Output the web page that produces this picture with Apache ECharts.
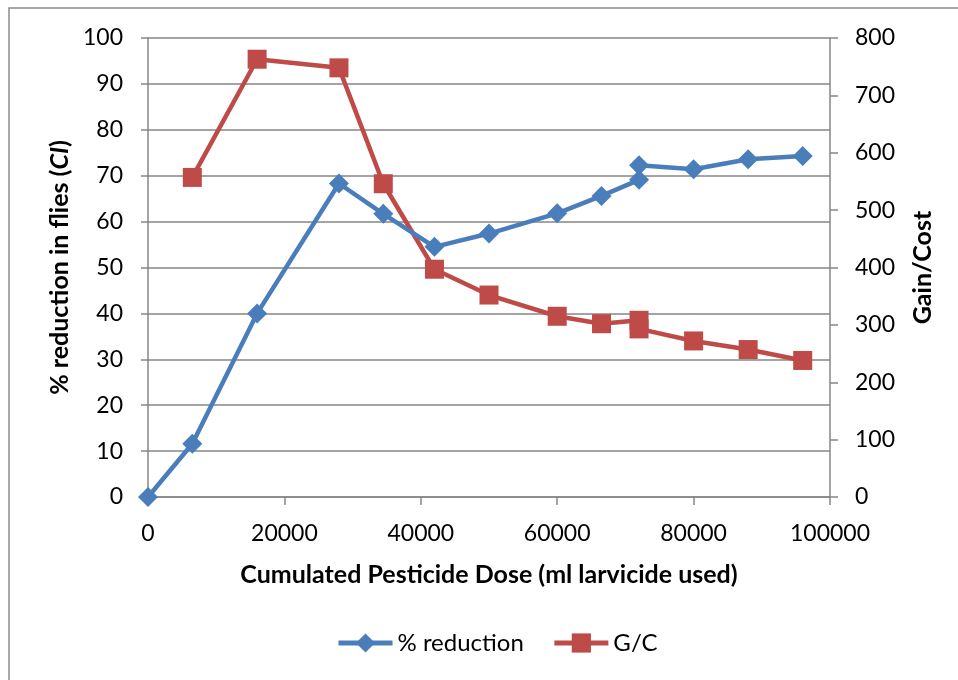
<!DOCTYPE html>
<html>
<head>
<meta charset="utf-8">
<script src="https://cdn.jsdelivr.net/npm/echarts@6/dist/echarts.min.js"></script>
<style>
  html, body { margin: 0; padding: 0; background: #fff; }
  #chart { width: 958px; height: 680px; }
</style>
</head>
<body>
<div id="chart"></div>
<script>
// Cumulated pesticide dose (ml larvicide used)
const dose = [0, 6500, 16000, 28000, 34500, 42000, 50000, 60000, 66500, 72000, 72000, 80000, 88000, 96000];
// % reduction in flies (CI)
const reduction = [0, 11.6, 40.0, 68.3, 61.7, 54.5, 57.4, 61.8, 65.6, 69.1, 72.3, 71.4, 73.6, 74.3];
// Gain/Cost ratio (no value at zero dose)
const gainCost = [null, 557, 763, 748, 546, 397, 352, 315, 302, 308, 293, 272, 257, 238];

const xTicks = { min: 0, max: 100000, interval: 20000 };
const leftTicks = { min: 0, max: 100, interval: 10 };
const rightTicks = { min: 0, max: 800, interval: 100 };

const FONT = 'Lato, "Open Sans", sans-serif';
const AXIS_GRAY = '#868686';
const BLUE = '#4A7EBB';
const RED = '#BE4B48';
const TICK_SIZE = 23;
const TITLE_SIZE = 25;

const pairs = (ys) => dose.map((x, i) => [x, ys[i] === null ? '-' : ys[i]]);

const chart = echarts.init(document.getElementById('chart'), null, { renderer: 'canvas' });

chart.setOption({
  backgroundColor: '#fff',
  animation: false,
  textStyle: { fontFamily: FONT, color: '#000' },
  graphic: [{
    type: 'rect',
    shape: { x: 9, y: 8, width: 1000, height: 720 },
    style: { fill: 'none', stroke: '#8c8c8c', lineWidth: 1.5 },
    silent: true,
    z: -1
  }],
  grid: { left: 148, right: 128, top: 38, bottom: 183, containLabel: false },
  legend: {
    bottom: 20,
    left: 331,
    itemWidth: 54,
    itemHeight: 24,
    itemGap: 28,
    lineStyle: { width: 5 },
    textStyle: { fontFamily: FONT, fontSize: 24, color: '#000' },
    data: ['% reduction', 'G/C']
  },
  xAxis: {
    type: 'value',
    min: xTicks.min,
    max: xTicks.max,
    interval: xTicks.interval,
    name: 'Cumulated Pesticide Dose (ml larvicide used)',
    nameLocation: 'middle',
    nameGap: 65,
    nameTextStyle: { fontFamily: FONT, fontSize: TITLE_SIZE, fontWeight: 'bold', color: '#000' },
    axisLine: { show: true, onZero: false, lineStyle: { color: AXIS_GRAY, width: 1.5 } },
    axisTick: { show: true, length: 8, inside: false, lineStyle: { color: AXIS_GRAY, width: 1.5 } },
    axisLabel: { fontFamily: FONT, fontSize: TICK_SIZE, color: '#000', margin: 25, formatter: (v) => String(v) },
    splitLine: { show: false }
  },
  yAxis: [{
    type: 'value',
    position: 'left',
    min: leftTicks.min,
    max: leftTicks.max,
    interval: leftTicks.interval,
    name: '{a|% reduction in flies (}{b|CI}{a|)}',
    nameLocation: 'middle',
    nameRotate: 90,
    nameGap: 75,
    nameTextStyle: {
      rich: {
        a: { fontFamily: FONT, fontSize: TITLE_SIZE, fontWeight: 'bold', color: '#000' },
        b: { fontFamily: FONT, fontSize: TITLE_SIZE, fontWeight: 'bold', fontStyle: 'italic', color: '#000' }
      }
    },
    axisLine: { show: true, lineStyle: { color: AXIS_GRAY, width: 1.5 } },
    axisTick: { show: true, length: 7, lineStyle: { color: AXIS_GRAY, width: 1.5 } },
    axisLabel: { fontFamily: FONT, fontSize: TICK_SIZE, color: '#000', margin: 25 },
    splitLine: { show: true, lineStyle: { color: AXIS_GRAY, width: 1.5 } }
  }, {
    type: 'value',
    position: 'right',
    min: rightTicks.min,
    max: rightTicks.max,
    interval: rightTicks.interval,
    name: 'Gain/Cost',
    nameLocation: 'middle',
    nameRotate: 90,
    nameGap: 80,
    nameTextStyle: { fontFamily: FONT, fontSize: TITLE_SIZE, fontWeight: 'bold', color: '#000' },
    axisLine: { show: true, lineStyle: { color: AXIS_GRAY, width: 1.5 } },
    axisTick: { show: true, length: 8, lineStyle: { color: AXIS_GRAY, width: 1.5 } },
    axisLabel: { fontFamily: FONT, fontSize: TICK_SIZE, color: '#000', margin: 25 },
    splitLine: { show: false }
  }],
  series: [{
    name: '% reduction',
    type: 'line',
    yAxisIndex: 0,
    data: pairs(reduction),
    symbol: 'diamond',
    symbolSize: 20,
    lineStyle: { color: BLUE, width: 4.5 },
    itemStyle: { color: BLUE },
    z: 3
  }, {
    name: 'G/C',
    type: 'line',
    yAxisIndex: 1,
    data: pairs(gainCost),
    symbol: 'rect',
    symbolSize: 19,
    lineStyle: { color: RED, width: 4.5 },
    itemStyle: { color: RED },
    z: 2
  }]
});
</script>
</body>
</html>
